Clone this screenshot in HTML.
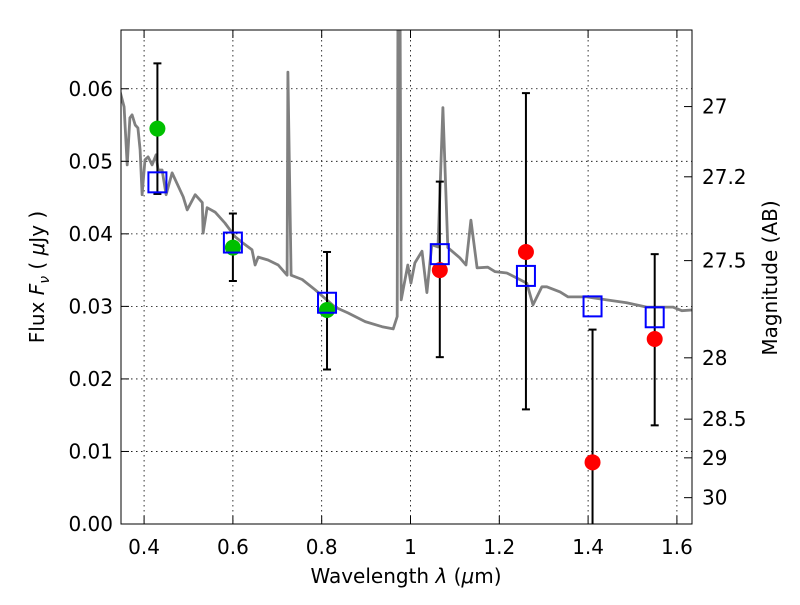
<!DOCTYPE html>
<html><head><meta charset="utf-8"><style>
body{margin:0;background:#fff}
svg text{font-family:"DejaVu Sans","Liberation Sans",sans-serif;fill:#000}
</style></head><body>
<svg id="chart" width="800" height="600" viewBox="0 0 800 600" xmlns="http://www.w3.org/2000/svg">
<rect width="800" height="600" fill="#fff"/>
<defs><clipPath id="clip"><rect x="121" y="30" width="571" height="494"/></clipPath></defs>
<g id="grid"></g>
<g id="plot" clip-path="url(#clip)"></g>
<rect x="121" y="30" width="571" height="494" fill="none" stroke="#000" stroke-width="1"/>
<g id="axes"></g>
<text x="406" y="583" font-size="20" text-anchor="middle">Wavelength  <tspan font-style="italic">λ</tspan> (<tspan font-style="italic">μ</tspan>m)</text>
<text transform="translate(44,277) rotate(-90)" font-size="20" text-anchor="middle">Flux  <tspan font-style="italic">F</tspan><tspan font-style="italic" font-size="14" dy="5">ν</tspan><tspan dy="-5">  (  </tspan><tspan font-style="italic">μ</tspan>Jy )</text>
<text transform="translate(777,278) rotate(-90)" font-size="20" text-anchor="middle">Magnitude (AB)</text>
</svg>
<script>
const specW=[0.346,0.355,0.362,0.368,0.373,0.380,0.386,0.391,0.3955,0.402,0.409,0.418,0.427,0.4315,0.4405,0.4495,0.463,0.488,0.497,0.515,0.531,0.533,0.542,0.560,0.582,0.605,0.621,0.643,0.650,0.657,0.679,0.702,0.722,0.724,0.731,0.756,0.785,0.830,0.859,0.898,0.936,0.961,0.970,0.972,0.976,0.979,0.994,1.001,1.010,1.026,1.037,1.048,1.062,1.073,1.084,1.111,1.125,1.136,1.150,1.174,1.190,1.217,1.246,1.262,1.276,1.296,1.307,1.337,1.355,1.397,1.442,1.487,1.532,1.591,1.611,1.634];
const specF=[0.0596,0.0575,0.0495,0.0560,0.0564,0.0550,0.0546,0.0516,0.0454,0.0502,0.0506,0.0495,0.0509,0.0488,0.0488,0.0454,0.0484,0.0451,0.0433,0.0454,0.0443,0.0401,0.0436,0.0430,0.0415,0.0396,0.0388,0.0378,0.0357,0.0368,0.0364,0.0357,0.0343,0.0623,0.0343,0.0337,0.0323,0.0299,0.0291,0.0279,0.0272,0.0269,0.0286,0.08,0.08,0.0309,0.0357,0.0332,0.0360,0.0376,0.0319,0.0385,0.0382,0.0574,0.0381,0.0367,0.0357,0.0419,0.0353,0.0354,0.0348,0.0346,0.0337,0.0332,0.0302,0.0327,0.0327,0.0320,0.0313,0.0313,0.0309,0.0305,0.0299,0.0299,0.0294,0.0295];
const greenW=[0.43,0.60,0.812];
const greenF=[0.0545,0.0381,0.0295];
const greenHi=[0.0635,0.0428,0.0375];
const greenLo=[0.0455,0.0335,0.0213];
const redW=[1.066,1.26,1.41,1.55];
const redF=[0.0350,0.0375,0.0085,0.0255];
const redHi=[0.0472,0.0594,0.0268,0.0372];
const redLo=[0.0230,0.0158,-0.01,0.0136];
const modelW=[0.43,0.60,0.812,1.066,1.26,1.41,1.55];
const modelF=[0.0471,0.0388,0.0305,0.0372,0.0342,0.0300,0.0285];
const xTicks=[0.4,0.6,0.8,1.0,1.2,1.4,1.6];
const xTickLabels=["0.4","0.6","0.8","1","1.2","1.4","1.6"];
const yTicks=[0,0.01,0.02,0.03,0.04,0.05,0.06];
const yTickLabels=["0.00","0.01","0.02","0.03","0.04","0.05","0.06"];
const magTicks=[27,27.2,27.5,28,28.5,29,30];
const magTickLabels=["27","27.2","27.5","28","28.5","29","30"];

const X0=121,X1=692,Y0=524,Y1=30,xmin=0.348,xmax=1.634,ymin=0,ymax=0.0681;
const sx=v=>X0+(v-xmin)/(xmax-xmin)*(X1-X0);
const sy=v=>Y0-(v-ymin)/(ymax-ymin)*(Y0-Y1);
const magToF=m=>Math.pow(10,(23.9-m)/2.5);
const NS="http://www.w3.org/2000/svg";
function mk(tag,attrs,parent){const e=document.createElementNS(NS,tag);for(const k in attrs)e.setAttribute(k,attrs[k]);parent.appendChild(e);return e;}
const grid=document.getElementById('grid'),plot=document.getElementById('plot'),axes=document.getElementById('axes');

xTicks.forEach((v,i)=>{
  const x=sx(v);
  const g=mk('line',{x1:x,x2:x,y1:Y1,y2:Y0,stroke:'#000','stroke-width':0.8,'stroke-dasharray':'1.5,3.5'},grid);
  
  
  const t1=mk('line',{x1:x,x2:x,y1:Y0,y2:Y0-8,stroke:'#000'},axes);
  
  
  const t2=mk('line',{x1:x,x2:x,y1:Y1,y2:Y1+8,stroke:'#000'},axes);
  
  
  const lb=mk('text',{x:x,y:554,'font-size':20,'text-anchor':'middle'},axes);
  lb.textContent=xTickLabels[i];
  
  
});
yTicks.forEach((v,i)=>{
  const y=sy(v);
  const g=mk('line',{x1:X0,x2:X1,y1:y,y2:y,stroke:'#000','stroke-width':0.8,'stroke-dasharray':'1.5,3.5'},grid);
  
  
  const t=mk('line',{x1:X0,x2:X0+8,y1:y,y2:y,stroke:'#000'},axes);
  
  
  const lb=mk('text',{x:113,y:y+7,'font-size':20,'text-anchor':'end'},axes);
  lb.textContent=yTickLabels[i];
  
  
});
magTicks.forEach((m,i)=>{
  const y=sy(magToF(m));
  const t=mk('line',{x1:X1,x2:X1-8,y1:y,y2:y,stroke:'#000'},axes);
  
  
  const lb=mk('text',{x:702,y:y+7,'font-size':20,'text-anchor':'start'},axes);
  lb.textContent=magTickLabels[i];
  
  
});

const pts=specW.map((w,i)=>sx(w).toFixed(1)+','+sy(specF[i]).toFixed(1)).join(' ');
const sp=mk('polyline',{points:pts,fill:'none',stroke:'#808080','stroke-width':2.8,'stroke-linejoin':'round'},plot);



function errbar(w,lo,hi){
  const x=sx(w);
  const l=mk('line',{x1:x,x2:x,y1:sy(lo),y2:sy(hi),stroke:'#000','stroke-width':2},plot);
  
  
  [lo,hi].forEach(v=>{
    const c=mk('line',{x1:x-4,x2:x+4,y1:sy(v),y2:sy(v),stroke:'#000','stroke-width':2},plot);
    
    
  });
}
greenW.forEach((w,i)=>errbar(w,greenLo[i],greenHi[i]));
redW.forEach((w,i)=>errbar(w,redLo[i],redHi[i]));
greenW.forEach((w,i)=>{
  const c=mk('circle',{cx:sx(w),cy:sy(greenF[i]),r:8,fill:'#00c000'},plot);
  
  
});
redW.forEach((w,i)=>{
  const c=mk('circle',{cx:sx(w),cy:sy(redF[i]),r:8,fill:'#ff0000'},plot);
  
  
});
modelW.forEach((w,i)=>{
  const r=mk('rect',{x:sx(w)-9,y:sy(modelF[i])-10,width:18,height:20,fill:'none',stroke:'#0000ff','stroke-width':2},plot);
  
  
});
</script>
</body></html>
